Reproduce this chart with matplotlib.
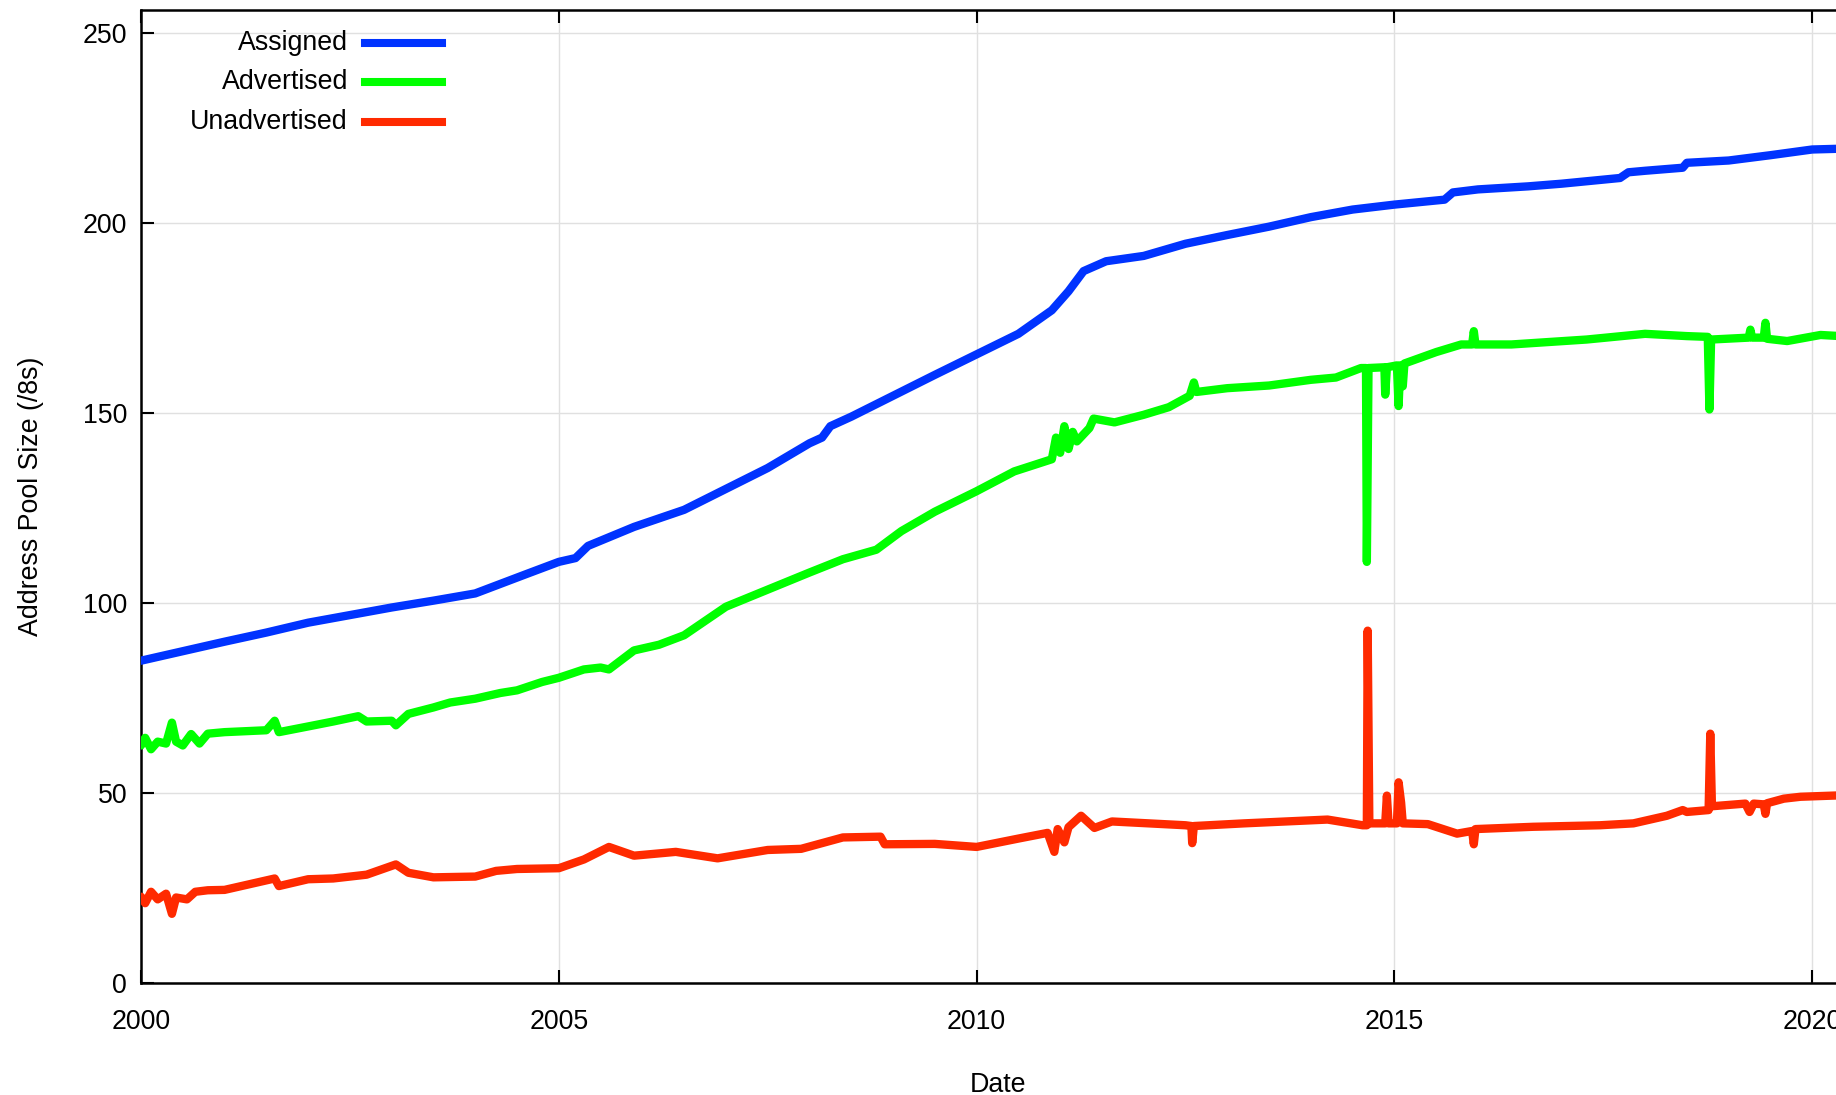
import matplotlib
matplotlib.use("Agg")
import matplotlib.pyplot as plt
from matplotlib.lines import Line2D

plt.rcParams['font.family'] = ['Liberation Sans', 'DejaVu Sans']

# ---------------- data ----------------
series_names = ["Assigned", "Advertised", "Unadvertised"]
series_colors = ["#0033ff", "#00ff00", "#ff2a00"]

assigned_years = [2000.0, 2000.5, 2001.0, 2001.5, 2002.0, 2002.5, 2003.0, 2003.5,
                  2004.0, 2004.3, 2004.6, 2005.0, 2005.2, 2005.35, 2005.9, 2006.5,
                  2007.0, 2007.5, 2008.0, 2008.15, 2008.25, 2008.5, 2009.0, 2009.5,
                  2010.0, 2010.5, 2010.9, 2011.1, 2011.28, 2011.55, 2012.0, 2012.5,
                  2013.0, 2013.5, 2014.0, 2014.5, 2015.0, 2015.6, 2015.7, 2016.0,
                  2016.6, 2017.0, 2017.7, 2017.8, 2018.0, 2018.45, 2018.5, 2019.0,
                  2019.5, 2020.0, 2020.5]
assigned_values = [84.8, 87.3, 89.8, 92.2, 94.8, 96.8, 98.8, 100.6,
                   102.5, 105.0, 107.5, 110.8, 111.8, 115.0, 120.0, 124.5,
                   130.0, 135.5, 142.0, 143.5, 146.5, 149.0, 154.5, 160.0,
                   165.4, 170.8, 177.0, 182.0, 187.3, 189.9, 191.3, 194.5,
                   196.8, 199.0, 201.5, 203.5, 204.8, 206.1, 208.0, 208.8,
                   209.6, 210.3, 211.8, 213.3, 213.7, 214.5, 215.8, 216.4,
                   217.8, 219.3, 219.6]

advertised_years = [2000.0, 2000.05, 2000.12, 2000.2, 2000.3, 2000.37, 2000.42, 2000.5,
                    2000.6, 2000.7, 2000.8, 2001.0, 2001.3, 2001.5, 2001.6, 2001.65,
                    2002.0, 2002.3, 2002.6, 2002.7, 2003.0, 2003.05, 2003.2, 2003.5,
                    2003.7, 2004.0, 2004.3, 2004.5, 2004.8, 2005.0, 2005.3, 2005.5,
                    2005.6, 2005.9, 2006.2, 2006.5, 2006.7, 2007.0, 2007.5, 2008.0,
                    2008.4, 2008.8, 2009.1, 2009.5, 2010.0, 2010.45, 2010.9, 2010.95,
                    2011.0, 2011.05, 2011.1, 2011.15, 2011.2, 2011.35, 2011.4, 2011.65,
                    2012.0, 2012.3, 2012.55, 2012.6, 2012.63, 2013.0, 2013.5, 2014.0,
                    2014.3, 2014.6, 2014.66, 2014.67, 2014.69, 2014.88, 2014.89, 2014.91,
                    2015.03, 2015.05, 2015.07, 2015.1, 2015.12, 2015.5, 2015.8, 2015.93,
                    2015.95, 2015.97, 2016.4, 2017.3, 2018.0, 2018.5, 2018.75, 2018.77,
                    2018.79, 2019.24, 2019.26, 2019.28, 2019.42, 2019.44, 2019.46, 2019.7,
                    2020.1, 2020.5]
advertised_values = [62.5, 64.5, 61.5, 63.5, 63.0, 68.5, 63.5, 62.5,
                     65.5, 63.0, 65.6, 66.0, 66.3, 66.5, 69.0, 66.0,
                     67.5, 68.8, 70.2, 68.8, 69.0, 67.8, 70.8, 72.5,
                     73.8, 74.8, 76.3, 77.0, 79.2, 80.3, 82.5, 83.0,
                     82.5, 87.5, 89.0, 91.5, 94.5, 99.0, 103.5, 108.0,
                     111.5, 114.0, 118.9, 124.0, 129.4, 134.6, 137.8, 143.5,
                     139.5, 146.5, 140.5, 145.0, 142.5, 146.0, 148.5, 147.5,
                     149.5, 151.5, 154.5, 158.0, 155.5, 156.5, 157.2, 158.7,
                     159.3, 161.8, 161.8, 110.8, 161.8, 162.0, 154.8, 162.0,
                     162.5, 151.8, 162.5, 157.0, 163.0, 166.0, 168.0, 168.0,
                     171.5, 168.0, 168.0, 169.3, 170.8, 170.2, 170.0, 150.9,
                     169.3, 169.8, 171.9, 169.8, 169.8, 173.7, 169.5, 168.9,
                     170.5, 170.0]

unadvertised_years = [2000.0, 2000.05, 2000.12, 2000.2, 2000.3, 2000.37, 2000.42, 2000.55,
                      2000.65, 2000.8, 2001.0, 2001.3, 2001.6, 2001.65, 2002.0, 2002.3,
                      2002.7, 2003.05, 2003.2, 2003.5, 2004.0, 2004.25, 2004.5, 2005.0,
                      2005.3, 2005.6, 2005.9, 2006.4, 2006.9, 2007.5, 2007.9, 2008.4,
                      2008.85, 2008.9, 2009.5, 2010.0, 2010.5, 2010.85, 2010.93, 2010.97,
                      2011.05, 2011.1, 2011.25, 2011.41, 2011.62, 2012.5, 2012.57, 2012.58,
                      2012.6, 2013.2, 2014.2, 2014.62, 2014.67, 2014.68, 2014.7, 2014.89,
                      2014.91, 2014.93, 2015.03, 2015.05, 2015.08, 2015.1, 2015.4, 2015.75,
                      2015.93, 2015.95, 2015.97, 2016.66, 2017.46, 2017.86, 2018.26, 2018.45,
                      2018.5, 2018.76, 2018.78, 2018.8, 2019.2, 2019.25, 2019.3, 2019.42,
                      2019.44, 2019.46, 2019.66, 2019.86, 2020.5]
unadvertised_values = [22.7, 21.0, 24.0, 22.0, 23.5, 18.2, 22.5, 22.0,
                       24.0, 24.4, 24.5, 26.0, 27.5, 25.5, 27.3, 27.5,
                       28.5, 31.2, 29.0, 27.8, 28.0, 29.5, 30.0, 30.2,
                       32.5, 35.8, 33.5, 34.5, 32.8, 35.0, 35.3, 38.3,
                       38.5, 36.5, 36.6, 35.8, 38.0, 39.5, 34.5, 40.5,
                       37.0, 41.0, 44.0, 40.8, 42.5, 41.5, 41.3, 36.8,
                       41.3, 42.0, 43.0, 41.5, 41.5, 92.7, 42.0, 42.0,
                       49.3, 42.0, 42.0, 52.8, 47.5, 42.0, 41.8, 39.3,
                       40.0, 36.5, 40.5, 41.1, 41.5, 42.0, 44.0, 45.5,
                       45.0, 45.5, 65.6, 46.5, 47.2, 45.0, 47.2, 47.0,
                       44.5, 47.3, 48.5, 49.0, 49.5]

x_ticks = [2000, 2005, 2010, 2015, 2020]
y_ticks = [0, 50, 100, 150, 200, 250]

# ---------------- figure ----------------
W, H = 1836, 1095
FS = 19.3
fig = plt.figure(figsize=(W / 100, H / 100), dpi=100)
ax_left, ax_right, ax_top, ax_bottom = 141, 1854, 10, 983
ax = fig.add_axes([ax_left / W, 1 - ax_bottom / H,
                   (ax_right - ax_left) / W, (ax_bottom - ax_top) / H])

all_years = [assigned_years, advertised_years, unadvertised_years]
all_values = [assigned_values, advertised_values, unadvertised_values]
for yrs, vals, col in zip(all_years, all_values, series_colors):
    ax.plot(yrs, vals, color=col, lw=6, solid_capstyle='round',
            solid_joinstyle='round', zorder=3)

ax.set_xlim(2000, 2020.5)
ax.set_ylim(0, 256)
ax.set_xticks(x_ticks)
ax.set_yticks(y_ticks)
ax.set_xticklabels([str(t) for t in x_ticks])
ax.grid(True, color='#e0e0e0', lw=1.0, zorder=0)
ax.set_axisbelow(True)

for s in ax.spines.values():
    s.set_linewidth(1.8)
ax.tick_params(axis='both', direction='in', length=9.5, width=1.5,
               labelsize=FS, top=True, right=True)
ax.tick_params(axis='y', pad=10)
ax.tick_params(axis='x', pad=19)

ax.set_xlabel("Date", fontsize=FS, labelpad=26)
ax.set_ylabel("Address Pool Size (/8s)", fontsize=FS, labelpad=28)

# legend (gnuplot style: right-aligned text, sample line to the right)
rows = [0.966, 0.926, 0.885]
for name, col, yy in zip(series_names, series_colors, rows):
    ax.text(0.1208, yy, name, transform=ax.transAxes, ha='right', va='center',
            fontsize=FS, zorder=5)
    ax.add_line(Line2D([0.1308, 0.1757], [yy, yy], transform=ax.transAxes,
                       color=col, lw=5.8, zorder=5))

fig.savefig("out.png", dpi=100)
